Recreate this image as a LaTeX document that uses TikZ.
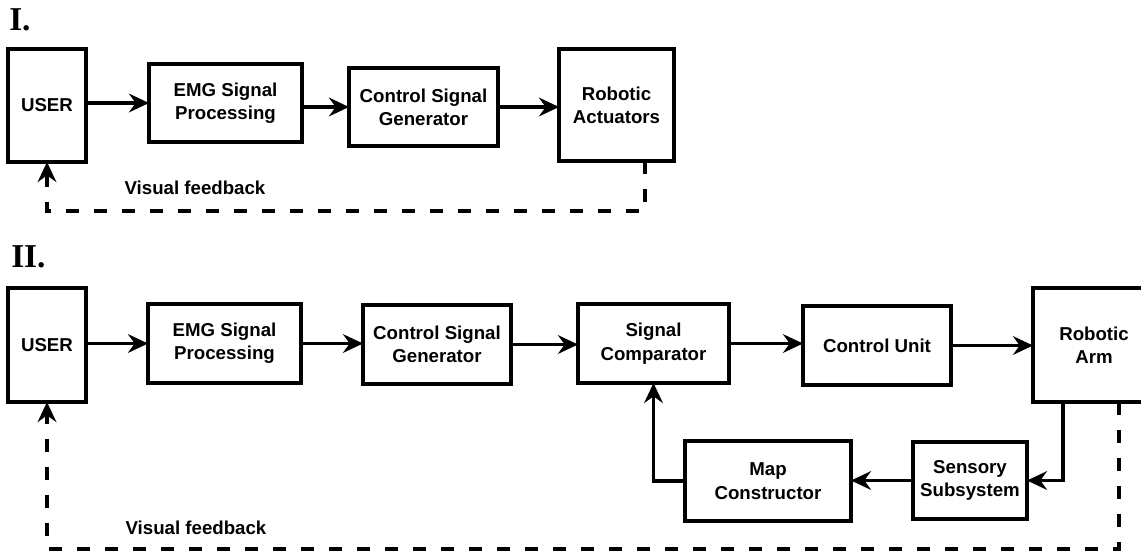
\documentclass[tikz,border=0pt]{standalone}
\usepackage{fontspec}
\setmainfont{Liberation Sans}
\newfontfamily\partfont{Liberation Serif}
\usetikzlibrary{arrows.meta}
\begin{document}
\begin{tikzpicture}[x=0.75pt,y=-0.75pt,
  box/.style={draw, line width=2.5pt, rectangle, inner sep=0pt, outer sep=0pt, align=center,
    font=\bfseries\fontsize{14}{17.5}\selectfont},
  wh/.style 2 args={minimum width={#1*0.75pt}, minimum height={#2*0.75pt}},
  flow/.style={line width=2.4pt, -{Stealth[length=15pt,width=14pt,inset=5pt]}},
  fb/.style={flow, dash pattern=on 10pt off 11pt},
  lbl/.style={font=\bfseries\fontsize{14}{17}\selectfont, inner sep=0pt},
  part/.style={font=\partfont\bfseries\fontsize{25}{25}\selectfont, inner sep=0pt, anchor=base west}]
\useasboundingbox (0,0) rectangle (1141,551);
\clip (0,0) rectangle (1141,551);

% ---------- Part I ----------
\node[part] (p1) at (9,30) {I.};
\node[box, wh={78}{113}]  (U1) at (47,105.5)  {USER};
\node[box, wh={153}{78}]  (E1) at (225.5,103) {EMG Signal\\Processing};
\node[box, wh={149}{78}]  (C1) at (423.5,107) {Control Signal\\Generator};
\node[box, wh={115}{112}] (R1) at (616.5,105) {Robotic\\Actuators};

\draw[flow] (U1.east |- E1.west) -- (E1.west);
\draw[flow] (E1.east |- C1.west) -- (C1.west);
\draw[flow] (C1.east) -- (C1.east -| R1.west);

\coordinate (f1) at (645,211);
\draw[fb] (R1.south -| f1) -- (f1) -| (U1.south);
\node[lbl] (v1) at (195,188) {Visual feedback};

% ---------- Part II ----------
\node[part] (p2) at (11,267) {II.};
\node[box, wh={78}{114}]  (U2) at (47,345)     {USER};
\node[box, wh={153}{79}]  (E2) at (224.5,343.5) {EMG Signal\\Processing};
\node[box, wh={148}{79}]  (C2) at (437,344.5)  {Control Signal\\Generator};
\node[box, wh={151}{79}]  (S2) at (653.5,343.5) {Signal\\Comparator};
\node[box, wh={148}{79}]  (CU) at (877,345.5)  {Control Unit};
\node[box, wh={122}{114}] (RA) at (1094,345)   {Robotic\\Arm};
\node[box, wh={114}{77}]  (SS) at (970,480.5)  {Sensory\\Subsystem};
\node[box, wh={166}{80}]  (MC) at (768,481)    {Map\\Constructor};

\draw[flow] (U2.east |- E2.west) -- (E2.west);
\draw[flow] (E2.east) -- (E2.east -| C2.west);
\draw[flow] (C2.east) -- (C2.east -| S2.west);
\draw[flow] (S2.east) -- (S2.east -| CU.west);
\draw[flow] (CU.east) -- (CU.east -| RA.west);

\coordinate (r1) at (1063,480.5);
\draw[flow] (RA.south -| r1) -- (r1) -- (SS.east);
\draw[flow] (SS.west) -- (SS.west -| MC.east);
\draw[flow] (MC.west) -| (S2.south);

\coordinate (f2) at (1119,549);
\draw[fb] (RA.south -| f2) -- (f2) -| (U2.south);
\node[lbl] (v2) at (196,528) {Visual feedback};
\end{tikzpicture}
\end{document}
